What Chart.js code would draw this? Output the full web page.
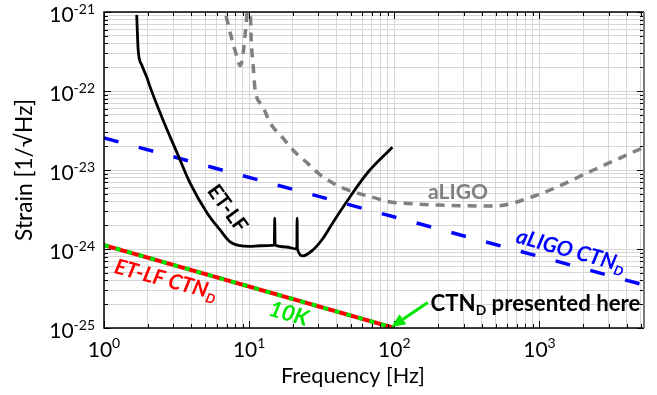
<!DOCTYPE html>
<html><head><meta charset="utf-8">
<script src="https://cdn.jsdelivr.net/npm/chart.js@4.4.1/dist/chart.umd.min.js"></script>
<style>html,body{margin:0;padding:0;background:#fff;}canvas{display:block;}</style>
</head><body>
<canvas id="c" width="657" height="395"></canvas>
<script>
// ---------- data ----------
const xTickExponents = [0, 1, 2, 3];
const yTickExponents = [-25, -24, -23, -22, -21];
const xMin = 1, xMax = 5250;
const yMin = 1e-25, yMax = 1e-21;

const etlfFreq   = [1.68, 1.72, 1.82, 1.97, 2.08, 2.55, 3.19, 3.92, 5.13, 6.31, 7.4, 8.67, 10, 12, 14.9, 15.0, 15.1, 18, 21.3, 21.4, 21.5, 23.5, 27.6, 32.4, 38, 48, 65, 97];
const etlfStrain = [9.2e-22, 3.3e-22, 2.13e-22, 1.5e-22, 1.12e-22, 4.3e-23, 1.64e-23, 6.8e-24, 2.86e-24, 1.74e-24, 1.23e-24, 1.1e-24, 1.08e-24, 1.1e-24, 1.12e-24, 2.45e-24, 1.12e-24, 1.06e-24, 1.0e-24, 2.45e-24, 1.0e-24, 8.2e-25, 9.8e-25, 1.38e-24, 2.2e-24, 4.2e-24, 9.1e-24, 1.94e-23];

const aligoFreq   = [6.5, 6.83, 7.63, 8.3, 8.66, 9.0, 9.37, 9.68, 9.9, 10.1, 10.33, 10.66, 11.0, 12.3, 14.0, 16.9, 20.1, 25.1, 30.9, 42.4, 55.6, 71.6, 89.5, 115, 207, 482, 1016, 2356, 5250];
const aligoStrain = [1.4e-21, 1e-21, 4.4e-22, 2.6e-22, 2.1e-22, 2.6e-22, 5.1e-22, 1e-21, 1.6e-21, 1.6e-21, 4.4e-22, 2.1e-22, 1.02e-22, 6.6e-23, 3.9e-23, 2.6e-23, 1.78e-23, 1.23e-23, 8.7e-24, 6.1e-24, 5.1e-24, 4.5e-24, 4.0e-24, 3.8e-24, 3.6e-24, 3.5e-24, 5.0e-24, 1e-23, 1.94e-23];

const aligoCtnFreq   = [1, 5250];
const aligoCtnStrain = [2.55e-23, 3.5e-25];

const etlfCtnFreq   = [1, 100];
const etlfCtnStrain = [1.12e-24, 1.0e-25];

const arrowFrom = [170, 2.1e-25];
const arrowTo   = [100, 1.0e-25];

// ---------- helpers ----------
const FAM = 'Lato, "Open Sans", "DejaVu Sans", sans-serif';
const pts = (xs, ys) => xs.map((x, i) => ({x: x, y: ys[i]}));
function decadeTicks(e0, e1, max) {
  const t = [];
  for (let e = e0; e <= e1; e++) for (let m = 1; m <= 9; m++) {
    const v = m * Math.pow(10, e);
    if (v <= max * 1.0001) t.push({value: v, major: m === 1});
  }
  return t;
}

function drawRich(ctx, parts, cx, cy, angle, o) {
  const fontFor = (p, s) => `${o.style || 'normal'} ${o.weight || 'normal'} ${p.sub ? s * 0.62 : s}px ${FAM}`;
  const measure = (s) => { let w = 0; for (const p of parts) { ctx.font = fontFor(p, s); w += ctx.measureText(p.t).width; } return w; };
  let s = o.size || 20;
  if (o.width) s = s * o.width / measure(s);
  const W = measure(s);
  ctx.save();
  ctx.translate(cx, cy);
  ctx.rotate(angle * Math.PI / 180);
  ctx.fillStyle = o.color;
  ctx.textAlign = 'left';
  ctx.textBaseline = 'alphabetic';
  let x = -W / 2;
  const base = s * 0.36;
  for (const p of parts) {
    ctx.font = fontFor(p, s);
    ctx.fillText(p.t, x, base + (p.sub ? s * 0.2 : 0));
    x += ctx.measureText(p.t).width;
  }
  ctx.restore();
}

const decor = {
  id: 'decor',
  afterDatasetsDraw(chart) {
    const ctx = chart.ctx, xs = chart.scales.x, ys = chart.scales.y, a = chart.chartArea;
    ctx.save();
    // inward ticks
    ctx.strokeStyle = '#000'; ctx.lineWidth = 1;
    for (const t of xs.ticks) {
      const px = Math.round(xs.getPixelForValue(t.value)) + 0.5;
      const L = t.major ? 7 : 4;
      ctx.beginPath();
      ctx.moveTo(px, a.bottom); ctx.lineTo(px, a.bottom - L);
      ctx.moveTo(px, a.top); ctx.lineTo(px, a.top + L);
      ctx.stroke();
    }
    for (const t of ys.ticks) {
      const py = Math.round(ys.getPixelForValue(t.value)) + 0.5;
      const L = t.major ? 7 : 4;
      ctx.beginPath();
      ctx.moveTo(a.left, py); ctx.lineTo(a.left + L, py);
      ctx.moveTo(a.right, py); ctx.lineTo(a.right - L, py);
      ctx.stroke();
    }
    // frame
    ctx.lineWidth = 1.5; ctx.strokeStyle = '#000';
    ctx.beginPath();
    ctx.moveTo(a.right, a.top); ctx.lineTo(a.left, a.top); ctx.lineTo(a.left, a.bottom); ctx.lineTo(a.right, a.bottom);
    ctx.stroke();
    ctx.strokeStyle = '#7a7a7a'; ctx.lineWidth = 2;
    ctx.beginPath(); ctx.moveTo(a.right, a.top); ctx.lineTo(a.right, a.bottom); ctx.stroke();

    // tick labels
    ctx.fillStyle = '#000'; ctx.textBaseline = 'alphabetic';
    const big = `21px ${FAM}`, sup = `14px ${FAM}`;
    for (const e of xTickExponents) {
      const px = xs.getPixelForValue(Math.pow(10, e));
      ctx.font = big; const w1 = ctx.measureText('10').width;
      ctx.font = sup; const w2 = ctx.measureText(String(e)).width;
      const x0 = px - (w1 + w2) / 2;
      ctx.textAlign = 'left';
      ctx.font = big; ctx.fillText('10', x0, a.bottom + 29);
      ctx.font = sup; ctx.fillText(String(e), x0 + w1, a.bottom + 20);
    }
    for (const e of yTickExponents) {
      const py = ys.getPixelForValue(Math.pow(10, e));
      ctx.font = sup; const w2 = ctx.measureText(String(e)).width;
      ctx.font = big; const w1 = ctx.measureText('10').width;
      const xr = a.left - 9;
      ctx.textAlign = 'left';
      ctx.font = big; ctx.fillText('10', xr - w2 - w1, py + 10);
      ctx.font = sup; ctx.fillText(String(e), xr - w2, py + 2);
    }
    // axis titles
    drawRich(ctx, [{t: 'Frequency [Hz]'}], 353, 375.5, 0, {color: '#000', width: 144});
    drawRich(ctx, [{t: 'Strain [1/\u221AHz]'}], 23.5, 170, -90, {color: '#000', width: 142});

    // annotations
    drawRich(ctx, [{t: 'aLIGO'}], 458, 191, 0, {color: '#808080', weight: 'bold', width: 60});
    drawRich(ctx, [{t: 'ET-LF'}], 228, 208, 54, {color: '#000', weight: 'bold', width: 53});
    drawRich(ctx, [{t: 'aLIGO CTN'}, {t: 'D', sub: true}], 571, 250, 15.5, {color: '#0000ff', weight: 'bold', style: 'italic', width: 112});
    drawRich(ctx, [{t: 'ET-LF CTN'}, {t: 'D', sub: true}], 166, 279, 15, {color: '#ff0000', weight: 'bold', style: 'italic', width: 105});
    drawRich(ctx, [{t: '10K'}], 289, 313, 16, {color: '#00e600', weight: 'bold', style: 'italic', width: 40});
    drawRich(ctx, [{t: 'CTN'}, {t: 'D', sub: true}, {t: ' presented here'}], 535.5, 303, 0, {color: '#000', weight: 'bold', width: 210});

    // arrow
    const x1 = xs.getPixelForValue(arrowFrom[0]), y1 = ys.getPixelForValue(arrowFrom[1]);
    const x2 = xs.getPixelForValue(arrowTo[0]) - 3, y2 = ys.getPixelForValue(arrowTo[1]) - 1;
    const ang = Math.atan2(y2 - y1, x2 - x1), hl = 14, hw = 6;
    const bx = x2 - hl * Math.cos(ang), by = y2 - hl * Math.sin(ang);
    ctx.strokeStyle = '#00e600'; ctx.fillStyle = '#00e600'; ctx.lineWidth = 3;
    ctx.beginPath(); ctx.moveTo(x1, y1); ctx.lineTo(bx, by); ctx.stroke();
    ctx.beginPath();
    ctx.moveTo(x2, y2);
    ctx.lineTo(bx + hw * Math.sin(ang), by - hw * Math.cos(ang));
    ctx.lineTo(bx - hw * Math.sin(ang), by + hw * Math.cos(ang));
    ctx.closePath(); ctx.fill();
    ctx.restore();
  }
};

new Chart(document.getElementById('c'), {
  type: 'scatter',
  data: {
    datasets: [
      {data: pts(etlfCtnFreq, etlfCtnStrain), borderColor: '#00e600', borderWidth: 4, borderDash: [5, 7], order: 0},
      {data: pts(etlfCtnFreq, etlfCtnStrain), borderColor: '#ff0000', borderWidth: 4, order: 1},
      {data: pts(etlfFreq, etlfStrain), borderColor: '#000000', borderWidth: 2.8, cubicInterpolationMode: 'monotone', order: 2},
      {data: pts(aligoCtnFreq, aligoCtnStrain), borderColor: '#0000ff', borderWidth: 3.5, borderDash: [15, 21], order: 3},
      {data: pts(aligoFreq, aligoStrain), borderColor: '#808080', borderWidth: 3.5, borderDash: [9, 7], cubicInterpolationMode: 'monotone', order: 4}
    ].map(d => Object.assign({showLine: true, pointRadius: 0, fill: false, borderCapStyle: 'butt'}, d))
  },
  options: {
    responsive: false,
    animation: false,
    devicePixelRatio: 1,
    layout: {padding: {left: 104, right: 13, top: 12, bottom: 67}},
    plugins: {legend: {display: false}, tooltip: {enabled: false}},
    scales: {
      x: {
        type: 'logarithmic', min: xMin, max: xMax,
        ticks: {display: false},
        grid: {color: '#d6d6d6', lineWidth: 1, drawTicks: false},
        border: {display: false},
        afterBuildTicks: (s) => { s.ticks = decadeTicks(xTickExponents[0], xTickExponents[xTickExponents.length - 1], xMax); }
      },
      y: {
        type: 'logarithmic', min: yMin, max: yMax,
        ticks: {display: false},
        grid: {color: '#d6d6d6', lineWidth: 1, drawTicks: false},
        border: {display: false},
        afterBuildTicks: (s) => {
          const t = decadeTicks(yTickExponents[0], yTickExponents[yTickExponents.length - 2], yMax);
          t.push({value: yMax, major: true});
          s.ticks = t;
        }
      }
    }
  },
  plugins: [decor]
});
</script>
</body></html>
